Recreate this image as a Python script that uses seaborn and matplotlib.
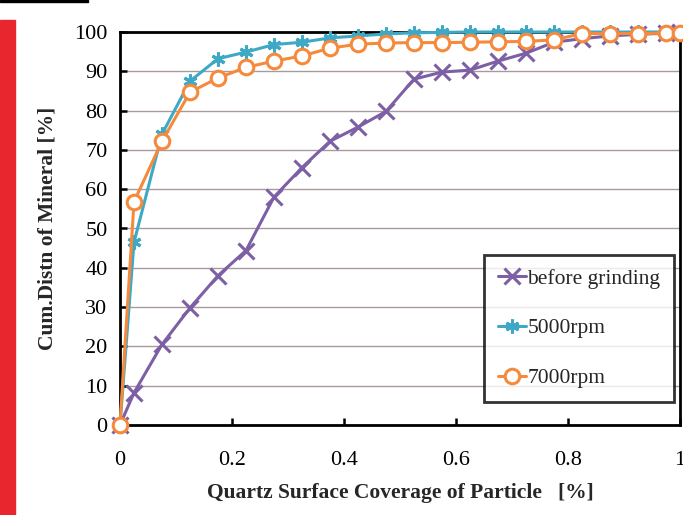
import numpy as np
import pandas as pd
import seaborn as sns
import matplotlib.pyplot as plt
from matplotlib.patches import Rectangle

# quartz surface coverage (x) and cumulative distribution values (%)
coverage = [0, 0.025, 0.075, 0.125, 0.175, 0.225, 0.275, 0.325, 0.375, 0.425, 0.475,
            0.525, 0.575, 0.625, 0.675, 0.725, 0.775, 0.825, 0.875, 0.925, 0.975, 1.0]
before_grinding = [0, 8.2, 20.5, 29.8, 38.0, 44.4, 58.0, 65.5, 72.2, 75.8, 79.8,
                   88.0, 89.8, 90.3, 92.6, 94.6, 97.4, 98.3, 99.0, 99.4, 99.7, 100]
rpm5000 = [0, 46.5, 74.0, 87.5, 93.2, 94.9, 96.8, 97.4, 98.5, 99.0, 99.5,
           99.8, 99.9, 100, 100, 100, 100, 100, 100, 100, 100, 100]
rpm7000 = [0, 56.8, 72.2, 84.7, 88.3, 91.0, 92.6, 93.9, 95.9, 96.9, 97.2,
           97.3, 97.3, 97.4, 97.5, 97.6, 98.0, 99.6, 99.6, 99.6, 99.7, 99.8]

series_names = ['before grinding', '5000rpm', '7000rpm']
x_ticks = [0, 0.2, 0.4, 0.6, 0.8, 1]
x_tick_labels = ['0', '0.2', '0.4', '0.6', '0.8', '1']
y_ticks = [0, 10, 20, 30, 40, 50, 60, 70, 80, 90, 100]

df = pd.DataFrame({
    'x': coverage * 3,
    'y': before_grinding + rpm5000 + rpm7000,
    'series': np.repeat(series_names, len(coverage)),
})

palette = {'before grinding': '#7D5FA6', '5000rpm': '#3FA9C5', '7000rpm': '#F58A3C'}
marker_map = {'before grinding': 'x', '5000rpm': (6, 2, 0), '7000rpm': 'o'}
marker_size = {'before grinding': 11, '5000rpm': 10, '7000rpm': 10.5}

sns.set_style('white')
plt.rcParams['font.family'] = ['Liberation Serif', 'DejaVu Serif']

fig = plt.figure(figsize=(6.83, 5.15), dpi=100)
ax = fig.add_axes([120 / 683, 90 / 515, 560 / 683, 393 / 515])

sns.lineplot(data=df, x='x', y='y', hue='series', palette=palette, marker='o',
             linewidth=2.2, ax=ax, hue_order=series_names, legend=False)

# swap in the marker shapes used for each series
for line, name in zip(ax.lines, series_names):
    line.set_linestyle('-')
    line.set_marker(marker_map[name])
    line.set_clip_on(False)
    line.set_zorder(3)
    line.set_markersize(marker_size[name])
    line.set_markeredgewidth(2.2)
    line.set_markeredgecolor(palette[name])
    line.set_markerfacecolor('white' if name == '7000rpm' else palette[name])
    line.set_label(name)

ax.set_xlim(0, 1)
ax.set_ylim(0, 100)
ax.set_xticks(x_ticks)
ax.set_xticklabels(x_tick_labels)
ax.set_yticks(y_ticks)
ax.tick_params(axis='both', direction='in', length=5, width=1.8, labelsize=16,
               colors='black')
ax.tick_params(axis='x', bottom=True, pad=19)
ax.tick_params(axis='y', left=True, pad=9)
ax.grid(axis='y', color='#A89A9A', linewidth=1.0)
ax.grid(axis='x', visible=False)
for sp in ax.spines.values():
    sp.set_color('black')
    sp.set_linewidth(2.0)
    sp.set_visible(True)

ax.set_xlabel('Quartz Surface Coverage of Particle   [%]', fontsize=15.5, fontweight='bold',
              labelpad=9)
ax.set_ylabel('Cum.Distn of Mineral [%]', fontsize=15.5, fontweight='bold', labelpad=12)

leg = ax.legend(loc='lower right', bbox_to_anchor=(0.99, 0.058), fontsize=15.5,
                frameon=True, fancybox=False, edgecolor='black', handlelength=1.3,
                handletextpad=0.05, labelspacing=1.38, borderpad=0.65, borderaxespad=0)
leg.get_frame().set_linewidth(2.0)

# decorations at the left edge of the figure
fig.patches.append(Rectangle((0, 0), 15 / 683, 495 / 515, transform=fig.transFigure,
                             color='#E8262E', zorder=0))
fig.patches.append(Rectangle((0, 513 / 515), 88 / 683, 2 / 515, transform=fig.transFigure,
                             color='black', zorder=0))

fig.savefig('out.png', dpi=100)
